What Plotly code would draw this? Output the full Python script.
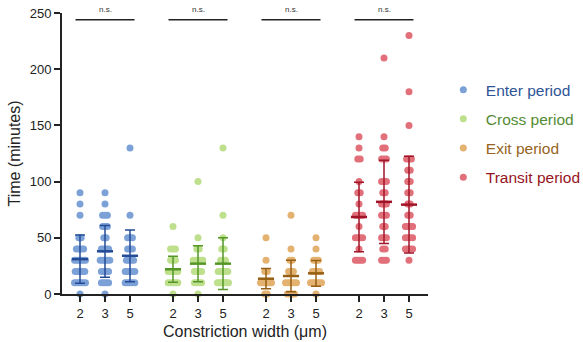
import plotly.graph_objects as go
import numpy as np

# ---------------- data ----------------
series_names = ["Enter period", "Cross period", "Exit period", "Transit period"]
widths = ["2", "3", "5"]

# observed values (minutes) as (value, count) per constriction width
enter_2 = [(90, 1), (80, 1), (70, 1), (50, 2), (40, 4), (30, 6), (20, 5), (10, 6), (0, 1)]
enter_3 = [(90, 1), (80, 1), (70, 3), (60, 3), (50, 2), (40, 4), (30, 5), (20, 4), (10, 4), (0, 1)]
enter_5 = [(130, 1), (70, 1), (50, 3), (40, 3), (30, 4), (20, 5), (10, 5)]

cross_2 = [(60, 1), (40, 3), (30, 3), (20, 5), (10, 5), (0, 1)]
cross_3 = [(100, 1), (50, 1), (40, 2), (30, 5), (20, 4), (10, 4), (0, 1)]
cross_5 = [(130, 1), (70, 1), (50, 1), (40, 2), (30, 3), (20, 5), (10, 7)]

exit_2 = [(50, 1), (30, 1), (20, 2), (10, 7), (0, 2)]
exit_3 = [(70, 1), (40, 1), (30, 2), (20, 3), (10, 6), (0, 4)]
exit_5 = [(50, 1), (40, 1), (30, 3), (20, 4), (10, 6), (0, 1)]

transit_2 = [(140, 1), (130, 1), (120, 2), (100, 1), (90, 2), (80, 1), (70, 4), (60, 1), (50, 4), (40, 1), (30, 4)]
transit_3 = [(210, 1), (140, 1), (130, 2), (120, 3), (100, 3), (90, 2), (80, 3), (70, 3), (60, 2), (50, 3), (40, 2), (30, 3)]
transit_5 = [(230, 1), (180, 1), (150, 1), (120, 3), (110, 2), (100, 2), (90, 2), (80, 2), (70, 2), (60, 4), (50, 4), (40, 4), (30, 1)]

series_data = [
    [enter_2, enter_3, enter_5],
    [cross_2, cross_3, cross_5],
    [exit_2, exit_3, exit_5],
    [transit_2, transit_3, transit_5],
]

# mean and SD
means = [
    [31, 38, 34],
    [22, 27, 27],
    [13.6, 16, 18.4],
    [68.5, 82, 79.5],
]
sds = [
    [21.5, 23, 23],
    [11.5, 16, 23],
    [9, 14, 11.5],
    [31, 37, 43],
]

dot_colors = ["rgb(124,161,215)", "rgb(190,224,140)", "rgb(228,178,112)", "rgb(225,112,122)"]
line_colors = ["rgb(35,75,150)", "rgb(85,150,40)", "rgb(150,95,20)", "rgb(160,20,40)"]
text_colors = ["rgb(47,84,150)", "rgb(84,140,50)", "rgb(150,100,30)", "rgb(150,20,30)"]

group_gap = 3.72
PX = 25.0  # pixels per x unit (layout helper)

fig = go.Figure()

tickvals, ticktext = [], []
for g, name in enumerate(series_names):
    xs, ys = [], []
    for k, w in enumerate(widths):
        xc = g * group_gap + k
        tickvals.append(xc)
        ticktext.append(w)
        for val, n in series_data[g][k]:
            s = min(2.4, 11.0 / max(n - 1, 1)) / PX
            for i in range(n):
                xs.append(xc + (i - (n - 1) / 2) * s)
                ys.append(val)
    fig.add_trace(go.Scatter(
        x=xs, y=ys, mode="markers", name=f'<span style="color:{text_colors[g]}">{name}</span>',
        legendgroup=name,
        marker=dict(size=7, color=dot_colors[g], line=dict(width=0)),
        cliponaxis=False, hoverinfo="skip",
    ))
    xc3 = [g * group_gap + k for k in range(3)]
    # SD error bars
    fig.add_trace(go.Scatter(
        x=xc3, y=means[g], mode="markers", showlegend=False,
        marker=dict(size=1, color="rgba(0,0,0,0)"),
        error_y=dict(type="data", array=sds[g], visible=True, width=5,
                     thickness=1.5, color=line_colors[g]),
        cliponaxis=False, hoverinfo="skip",
    ))
    # mean lines
    fig.add_trace(go.Scatter(
        x=xc3, y=means[g], mode="markers", showlegend=False,
        marker=dict(symbol="line-ew", size=11.5, color=line_colors[g],
                    line=dict(width=2.5, color=line_colors[g])),
        cliponaxis=False, hoverinfo="skip",
    ))

# significance bars
sig_y = 244
for g in range(4):
    c = g * group_gap + 1
    fig.add_shape(type="line", xref="x", yref="y", x0=c - 1.18, x1=c + 1.18,
                  y0=sig_y, y1=sig_y, line=dict(color="#222", width=1.3))
    fig.add_annotation(x=c, y=sig_y, xref="x", yref="y", text="n.s.", showarrow=False,
                       yanchor="bottom", yshift=4, font=dict(size=8, color="#333"))

font_family = "Arial, Liberation Sans, sans-serif"
fig.update_layout(
    width=583, height=342,
    margin=dict(l=62, r=155, t=13, b=48, autoexpand=False),
    paper_bgcolor="white", plot_bgcolor="white",
    font=dict(family=font_family, color="#222"),
    showlegend=True,
    legend=dict(x=1.035, y=0.786, xanchor="left", yanchor="top",
                font=dict(size=15.5), tracegroupgap=6, itemsizing="trace", itemwidth=35,
                bgcolor="rgba(0,0,0,0)"),
    xaxis=dict(
        range=[-0.72, 13.92], tickvals=tickvals, ticktext=ticktext,
        showgrid=False, zeroline=False, showline=True, linecolor="#222", linewidth=2,
        ticks="outside", ticklen=6, tickwidth=2, tickcolor="#222",
        tickfont=dict(size=13, color="#222"),
        title=dict(text="Constriction width (μm)", font=dict(size=16, color="#222"), standoff=6),
    ),
    yaxis=dict(
        range=[0, 250], tickvals=[0, 50, 100, 150, 200, 250],
        showgrid=False, zeroline=False, showline=True, linecolor="#222", linewidth=2,
        ticks="outside", ticklen=6, tickwidth=2, tickcolor="#222",
        tickfont=dict(size=13, color="#222"),
        title=dict(text="Time (minutes)", font=dict(size=16, color="#222"), standoff=5),
    ),
)

fig.write_html("out.html")
